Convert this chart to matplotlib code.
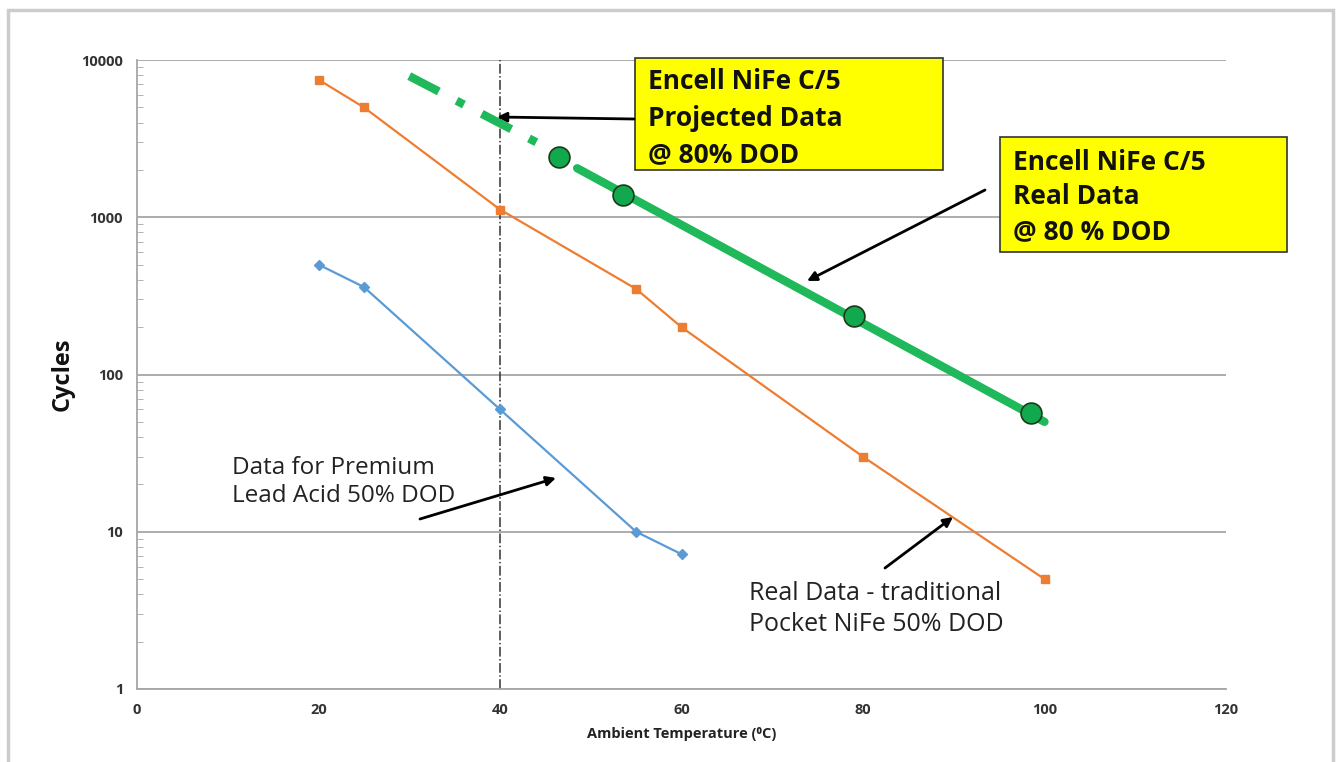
#!/usr/bin/env python
import matplotlib
matplotlib.use("Agg")
import matplotlib.pyplot as plt
from matplotlib.patches import Rectangle
from matplotlib.ticker import LogLocator, NullFormatter, FixedLocator

plt.rcParams['font.family'] = ['Open Sans', 'DejaVu Sans']

# lead acid (premium, 50% DOD)
lead_x = [20, 25, 40, 55, 60]
lead_y = [500, 360, 60, 10, 7.2]

# traditional pocket NiFe (50% DOD)
pocket_x = [20, 25, 40, 55, 60, 80, 100]
pocket_y = [7500, 5000, 1120, 350, 200, 30, 5]

# Encell NiFe C/5 projected + real line
proj_x = [30, 44]
proj_y = [7900, 3000]
real_x = [48.5, 100]
real_y = [2050, 50]
enc_pts_x = [46.5, 53.5, 79, 98.5]
enc_pts_y = [2400, 1380, 235, 57]

xticks = [0, 20, 40, 60, 80, 100, 120]
yticks = [1, 10, 100, 1000, 10000]

W, H = 1341, 762
AX_L, AX_R, AX_T, AX_B = 137, 1226, 60, 689


def px(x, y):
    # pixel position -> axes fraction
    return ((x - AX_L) / (AX_R - AX_L), (AX_B - y) / (AX_B - AX_T))


fig = plt.figure(figsize=(W / 100, H / 100), dpi=100)
# card frame
fig.patches.append(Rectangle((8 / W, -0.05), 1325 / W, 1.05 - 10 / H,
                             transform=fig.transFigure, fill=False,
                             edgecolor='#cccccc', linewidth=2.5, zorder=0))

ax = fig.add_axes([AX_L / W, 1 - AX_B / H, (AX_R - AX_L) / W, (AX_B - AX_T) / H])
ax.set_yscale('log')
ax.set_xlim(0, 120)
ax.set_ylim(1, 10000)

ax.yaxis.set_major_locator(FixedLocator(yticks))
ax.set_yticklabels([str(v) for v in yticks])
ax.yaxis.set_minor_locator(LogLocator(base=10, subs=range(2, 10)))
ax.yaxis.set_minor_formatter(NullFormatter())
ax.set_xticks(xticks)
ax.set_xticklabels([str(v) for v in xticks])

ax.grid(axis='y', which='major', color='#a6a6a6', linewidth=1.3)
ax.set_axisbelow(True)
for s in ['top', 'right']:
    ax.spines[s].set_visible(False)
for s in ['left', 'bottom']:
    ax.spines[s].set_color('#a6a6a6')
    ax.spines[s].set_linewidth(1.3)
ax.tick_params(axis='both', which='major', length=0, pad=10, labelsize=10.5)
ax.tick_params(axis='y', which='minor', direction='in', length=4, color='#a6a6a6')
for lab in ax.get_xticklabels() + ax.get_yticklabels():
    lab.set_fontweight('bold')
    lab.set_color('#333333')

ax.axvline(40, color='#333333', linestyle='-.', linewidth=1.1, zorder=2)

ax.plot(lead_x, lead_y, color='#5B9BD5', linewidth=1.6, marker='D',
        markersize=5, zorder=3)
ax.plot(pocket_x, pocket_y, color='#ED7D31', linewidth=1.6, marker='s',
        markersize=6, zorder=3)

ax.plot(proj_x, proj_y, color='#1FB85A', linewidth=6, zorder=4,
        linestyle=(0, (4, 2.4, 1, 2.4)), dash_capstyle='butt')
ax.plot(real_x, real_y, color='#1FB85A', linewidth=6, zorder=4,
        solid_capstyle='round')
ax.plot(enc_pts_x, enc_pts_y, linestyle='none', marker='o', markersize=15,
        markerfacecolor='#12A84E', markeredgecolor='#1a3a1a', markeredgewidth=1.2,
        zorder=5)

ax.set_xlabel('Ambient Temperature (\u2070C)', fontsize=10.5, fontweight='bold',
              labelpad=7, color='#222222')
ax.set_ylabel('Cycles', fontsize=17, fontweight='bold', labelpad=5, color='#111111')

# yellow boxes
for (x0, y0, x1, y1) in [(635, 58, 943, 170), (1000, 137, 1287, 252)]:
    fx0, fy0 = px(x0, y1)
    fx1, fy1 = px(x1, y0)
    ax.add_patch(Rectangle((fx0, fy0), fx1 - fx0, fy1 - fy0, transform=ax.transAxes,
                           facecolor='#FFFF00', edgecolor='#333333', linewidth=1.2,
                           clip_on=False, zorder=6))

arrow = dict(arrowstyle='-|>', color='black', linewidth=2, mutation_scale=14,
             shrinkA=0, shrinkB=0)

ax.text(*px(648, 118), 'Encell NiFe C/5\nProjected Data\n@ 80% DOD', transform=ax.transAxes,
        fontsize=19, fontweight='bold', color='#111111', linespacing=1.45,
        va='center', ha='left', zorder=7)
ax.annotate('', xy=px(497, 117), xytext=px(634, 119), xycoords='axes fraction',
            textcoords='axes fraction', arrowprops=arrow, zorder=7)

ax.text(*px(1013, 197), 'Encell NiFe C/5\nReal Data\n@ 80 % DOD', transform=ax.transAxes,
        fontsize=19, fontweight='bold', color='#111111', linespacing=1.35,
        va='center', ha='left', zorder=7)
ax.annotate('', xy=px(807, 281), xytext=px(985, 190), xycoords='axes fraction',
            textcoords='axes fraction', arrowprops=arrow, zorder=7)

ax.text(*px(232, 482), 'Data for Premium\nLead Acid 50% DOD', transform=ax.transAxes,
        fontsize=17.5, color='#222222', linespacing=1.2, va='center', ha='left')
ax.annotate('', xy=px(556, 478), xytext=px(420, 519), xycoords='axes fraction',
            textcoords='axes fraction', arrowprops=arrow)

ax.text(*px(749, 609), 'Real Data - traditional\nPocket NiFe 50% DOD', transform=ax.transAxes,
        fontsize=18, color='#222222', linespacing=1.32, va='center', ha='left')
ax.annotate('', xy=px(953, 517), xytext=px(885, 568), xycoords='axes fraction',
            textcoords='axes fraction', arrowprops=arrow)

fig.savefig('out.png', dpi=100)
